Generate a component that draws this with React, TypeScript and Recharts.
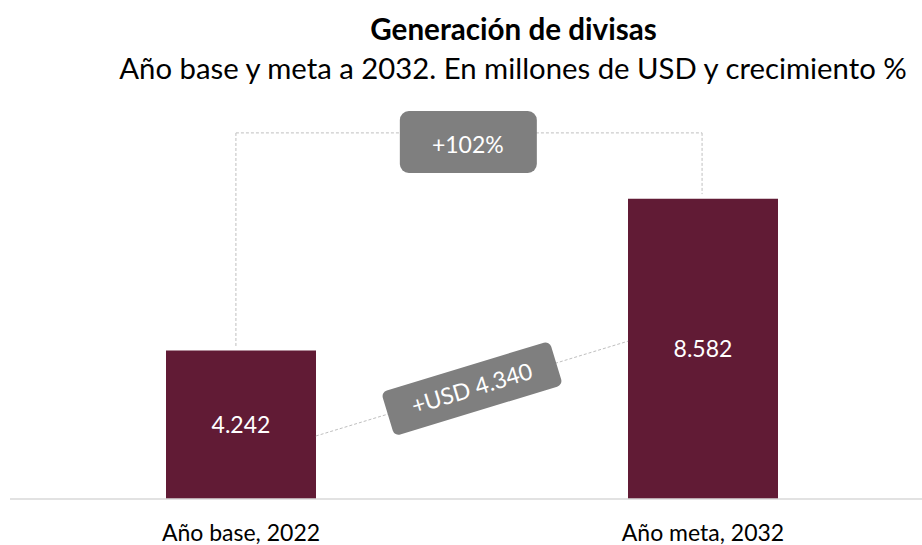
import { BarChart, Bar, XAxis, YAxis, ReferenceLine, ReferenceDot, LabelList } from 'recharts'

// Datos (millones de USD)
const categories = ['Año base, 2022', 'Año meta, 2032']
const values = [4242, 8582]

const title = 'Generación de divisas'
const subtitle = 'Año base y meta a 2032. En millones de USD y crecimiento %'

const BAR_COLOR = '#611b35'
const BOX_COLOR = '#7f7f7f'
const DASH_COLOR = '#bfbfbf'
const FONT = 'Lato, "Open Sans", sans-serif'

const CHART_W = 940
const CHART_H = 545
const MARGIN = { top: 79, right: 6, left: 10, bottom: 0 }
const Y_MAX = 12000
const X_AXIS_H = 46

const fmt = (n: number) => String(Math.round(n)).replace(/\B(?=(\d{3})+(?!\d))/g, '.')

const diff = values[1] - values[0]
const growth = Math.round((diff / values[0]) * 100)

const data = categories.map((name, i) => ({ name, value: values[i] }))

// anotaciones: x como fracción del ancho del área (0..1), y en millones
const BRACKET_Y = 10460
const BRACKET_X = [0.2445, 0.749]
const GAP = 130
const SLOPE_FROM = { x: 0.331, y: 1800 }
const SLOPE_TO = { x: 0.669, y: 4510 }
const GROWTH_POS = { x: 0.4955, y: 10200 }

const plotW = CHART_W - MARGIN.left - MARGIN.right
const plotH = CHART_H - MARGIN.top - MARGIN.bottom - X_AXIS_H
const pxY = plotH / Y_MAX
const slopeAngle =
  (-Math.atan(((SLOPE_TO.y - SLOPE_FROM.y) * pxY) / ((SLOPE_TO.x - SLOPE_FROM.x) * plotW)) * 180) / Math.PI

const GrowthBox = (props: any) => {
  const { cx, cy } = props
  return (
    <g>
      <rect x={cx - 68} y={cy - 31} width={137} height={62} rx={9} fill={BOX_COLOR} />
      <text x={cx} y={cy + 11} fill="#fff" fontSize={23} fontFamily={FONT} textAnchor="middle">
        {`+${growth}%`}
      </text>
    </g>
  )
}

const DiffBox = (props: any) => {
  const { cx, cy } = props
  return (
    <g transform={`rotate(${slopeAngle} ${cx} ${cy})`}>
      <rect x={cx - 88} y={cy - 23} width={176} height={46} rx={6} fill={BOX_COLOR} />
      <text x={cx} y={cy + 8} fill="#fff" fontSize={23} fontFamily={FONT} textAnchor="middle">
        {`+USD ${fmt(diff)}`}
      </text>
    </g>
  )
}

export default function App() {
  return (
    <div style={{ position: 'absolute', left: 0, top: 0, width: 922, height: 545, overflow: 'hidden', background: '#fff', fontFamily: FONT }}>
      <svg width={922} height={90} style={{ position: 'absolute', left: 0, top: 0 }}>
        <text x={513.5} y={40} textAnchor="middle" fontSize={29.6} fontWeight={700} fontFamily={FONT} fill="#000">
          {title}
        </text>
        <text x={513} y={79} textAnchor="middle" fontSize={29.3} fontFamily={FONT} fill="#000">
          {subtitle}
        </text>
      </svg>
      <div style={{ position: 'absolute', left: 0, top: 0 }}>
        <BarChart width={CHART_W} height={CHART_H} data={data} margin={MARGIN}>
          <XAxis
            dataKey="name"
            height={X_AXIS_H}
            axisLine={{ stroke: '#d9d9d9', strokeWidth: 1.5 }}
            tickLine={false}
            tickMargin={20}
            tick={{ fill: '#000', fontSize: 23, fontFamily: FONT }}
          />
          <XAxis xAxisId="n" type="number" domain={[0, 1]} allowDataOverflow hide />
          <YAxis hide domain={[0, Y_MAX]} />
          <Bar dataKey="value" fill={BAR_COLOR} barSize={150} isAnimationActive={false}>
            <LabelList dataKey="value" position="center" fill="#fff" fontSize={23} fontFamily={FONT} formatter={(v: any) => fmt(Number(v))} />
          </Bar>
          <ReferenceLine
            xAxisId="n"
            ifOverflow="visible"
            stroke={DASH_COLOR}
            strokeDasharray="3 2"
            segment={[{ x: BRACKET_X[0], y: values[0] + GAP }, { x: BRACKET_X[0], y: BRACKET_Y }]}
          />
          <ReferenceLine
            xAxisId="n"
            ifOverflow="visible"
            stroke={DASH_COLOR}
            strokeDasharray="3 2"
            segment={[{ x: BRACKET_X[0], y: BRACKET_Y }, { x: BRACKET_X[1], y: BRACKET_Y }]}
          />
          <ReferenceLine
            xAxisId="n"
            ifOverflow="visible"
            stroke={DASH_COLOR}
            strokeDasharray="3 2"
            segment={[{ x: BRACKET_X[1], y: BRACKET_Y }, { x: BRACKET_X[1], y: values[1] + GAP }]}
          />
          <ReferenceLine
            xAxisId="n"
            ifOverflow="visible"
            stroke={DASH_COLOR}
            strokeDasharray="3 2"
            segment={[SLOPE_FROM, SLOPE_TO]}
          />
          <ReferenceDot xAxisId="n" x={GROWTH_POS.x} y={GROWTH_POS.y} ifOverflow="visible" shape={GrowthBox} />
          <ReferenceDot
            xAxisId="n"
            x={(SLOPE_FROM.x + SLOPE_TO.x) / 2}
            y={(SLOPE_FROM.y + SLOPE_TO.y) / 2}
            ifOverflow="visible"
            shape={DiffBox}
          />
        </BarChart>
      </div>
    </div>
  )
}
